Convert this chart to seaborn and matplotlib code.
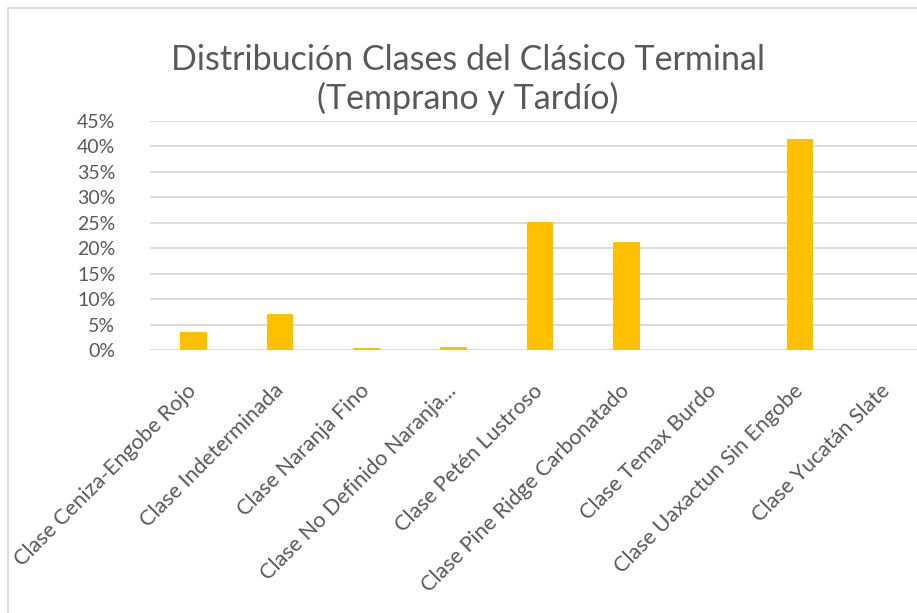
import matplotlib
matplotlib.use("Agg")
import matplotlib.pyplot as plt
from matplotlib.patches import Rectangle
from matplotlib.ticker import PercentFormatter
import seaborn as sns
import pandas as pd

categories = [
    "Clase Ceniza-Engobe Rojo",
    "Clase Indeterminada",
    "Clase Naranja Fino",
    "Clase No Definido Naranja...",
    "Clase Petén Lustroso",
    "Clase Pine Ridge Carbonatado",
    "Clase Temax Burdo",
    "Clase Uaxactun Sin Engobe",
    "Clase Yucatán Slate",
]
shares = [0.0347, 0.0707, 0.0045, 0.0055, 0.2520, 0.2120, 0.0002, 0.4140, 0.0002]
yticks = [0, 0.05, 0.10, 0.15, 0.20, 0.25, 0.30, 0.35, 0.40, 0.45]
title = "Distribución Clases del Clásico Terminal\n(Temprano y Tardío)"

sns.set_theme(style="white")
plt.rcParams["font.family"] = ["Lato", "DejaVu Sans"]

W, H = 917, 613
fig = plt.figure(figsize=(W / 100, H / 100), dpi=100)

# chart border
fig.patches.append(Rectangle((8 / W, -0.1), 1.2, (H - 8) / H + 0.1,
                             transform=fig.transFigure, fill=False,
                             edgecolor="#d9d9d9", linewidth=1.3))

left, right, top, bottom = 150, 930, 121, 350
ax = fig.add_axes([left / W, 1 - bottom / H, (right - left) / W, (bottom - top) / H])

df = pd.DataFrame({"clase": categories, "share": shares})
sns.barplot(data=df, x="clase", y="share", color="#FFC000", width=0.31,
            saturation=1, linewidth=0, edgecolor="none", ax=ax)
for bar in ax.patches:
    bar.set_zorder(3)

ax.set_ylim(0, 0.45)
ax.set_yticks(yticks)
ax.yaxis.set_major_formatter(PercentFormatter(1.0, decimals=0))
ax.grid(axis="y", color="#d9d9d9", linewidth=1.3, zorder=1)
ax.set_axisbelow(True)
for s in ax.spines.values():
    s.set_visible(False)
ax.set_xlabel("")
ax.set_ylabel("")
ax.tick_params(axis="y", length=0, pad=25, labelsize=14, labelcolor="#595959")
ax.tick_params(axis="x", length=0, pad=27, labelsize=15.5, labelcolor="#595959")
ax.set_xticks(range(len(categories)))
ax.set_xticklabels(categories, rotation=45, ha="right", rotation_mode="anchor")
for lbl in ax.get_xticklabels():
    lbl.set_verticalalignment("center")

fig.text(468 / W, 1 - 44 / H, title, ha="center", va="top", fontsize=24.5,
         color="#595959", linespacing=1.2)

fig.savefig("out.png", dpi=100, facecolor="white")
